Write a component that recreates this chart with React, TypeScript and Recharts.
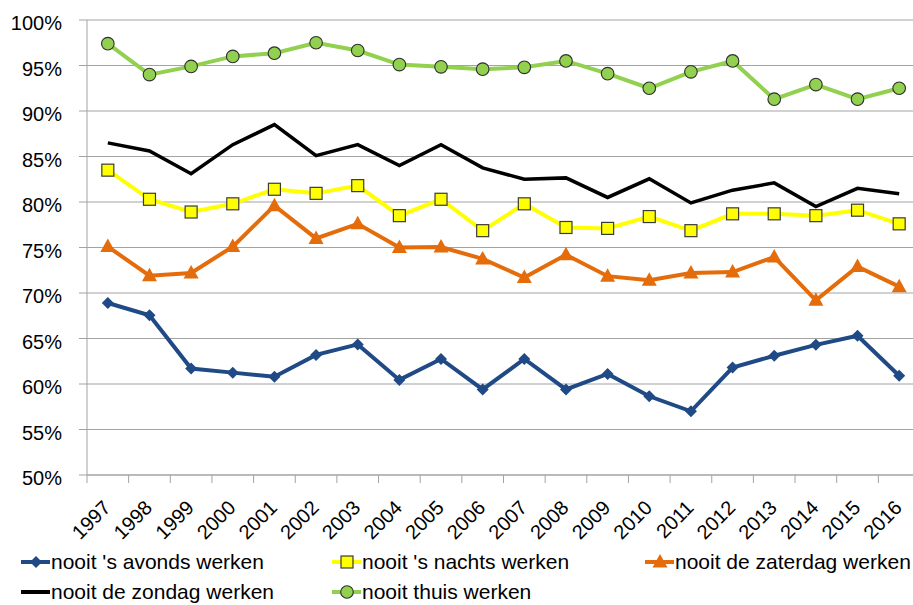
import { LineChart, Line, XAxis, YAxis, CartesianGrid } from 'recharts'

const years = [1997, 1998, 1999, 2000, 2001, 2002, 2003, 2004, 2005, 2006, 2007, 2008, 2009, 2010, 2011, 2012, 2013, 2014, 2015, 2016]
const avonds = [68.9, 67.55, 61.7, 61.25, 60.8, 63.2, 64.35, 60.45, 62.75, 59.4, 62.75, 59.4, 61.1, 58.65, 57.0, 61.8, 63.1, 64.3, 65.3, 60.9]
const nachts = [83.5, 80.3, 78.9, 79.8, 81.4, 80.95, 81.8, 78.5, 80.3, 76.85, 79.8, 77.2, 77.1, 78.4, 76.85, 78.7, 78.7, 78.5, 79.1, 77.6]
const zaterdag = [75.1, 71.9, 72.2, 75.1, 79.6, 76.0, 77.6, 75.0, 75.05, 73.75, 71.7, 74.2, 71.85, 71.4, 72.2, 72.3, 73.95, 69.2, 72.9, 70.7]
const zondag = [86.5, 85.6, 83.1, 86.3, 88.5, 85.1, 86.3, 84.0, 86.3, 83.75, 82.5, 82.65, 80.5, 82.55, 79.9, 81.3, 82.1, 79.5, 81.5, 80.9]
const thuis = [97.4, 94.0, 94.9, 96.0, 96.35, 97.5, 96.65, 95.1, 94.85, 94.6, 94.8, 95.5, 94.1, 92.5, 94.3, 95.5, 91.3, 92.9, 91.3, 92.5]
const yTicks = [50, 55, 60, 65, 70, 75, 80, 85, 90, 95, 100]

const font = '"Liberation Sans", Arial, sans-serif'
const gray = '#A3A3A3'

const data = years.map((year, i) => ({
  i,
  year,
  avonds: avonds[i],
  nachts: nachts[i],
  zaterdag: zaterdag[i],
  zondag: zondag[i],
  thuis: thuis[i],
}))

// category centres carry the labels, half steps carry the tick marks
const xTicks: number[] = []
for (let k = -0.5; k <= years.length - 0.5; k += 0.5) xTicks.push(k)

type Marker = 'diamond' | 'square' | 'triangle' | 'circle' | 'none'

function markerShape(kind: Marker, cx: number, cy: number, fill: string, key?: string | number) {
  if (kind === 'diamond') {
    return <path key={key} d={`M${cx},${cy - 6} L${cx + 6},${cy} L${cx},${cy + 6} L${cx - 6},${cy} Z`} fill={fill} />
  }
  if (kind === 'square') {
    return <rect key={key} x={cx - 6} y={cy - 6} width={12} height={12} fill={fill} stroke="#3a3a3a" strokeWidth={1.2} />
  }
  if (kind === 'triangle') {
    return <path key={key} d={`M${cx},${cy - 8} L${cx + 7.5},${cy + 5.5} L${cx - 7.5},${cy + 5.5} Z`} fill={fill} />
  }
  if (kind === 'circle') {
    return <circle key={key} cx={cx} cy={cy} r={6.3} fill={fill} stroke="#2e2e2e" strokeWidth={1.1} />
  }
  return <g key={key} />
}

const series = [
  { key: 'avonds', name: "nooit 's avonds werken", color: '#1F4A85', marker: 'diamond' as Marker, fill: '#1F4A85' },
  { key: 'nachts', name: "nooit 's nachts werken", color: '#FFFF00', marker: 'square' as Marker, fill: '#FFFF00' },
  { key: 'zaterdag', name: 'nooit de zaterdag werken', color: '#E46C0A', marker: 'triangle' as Marker, fill: '#E46C0A' },
  { key: 'zondag', name: 'nooit de zondag werken', color: '#000000', marker: 'none' as Marker, fill: '#000000' },
  { key: 'thuis', name: 'nooit thuis werken', color: '#92D050', marker: 'circle' as Marker, fill: '#92D050' },
]

const legendPos = [
  { x: 21, y: 562 },
  { x: 332, y: 562 },
  { x: 645, y: 562 },
  { x: 21, y: 592 },
  { x: 332, y: 592 },
]

function XTick(props: any) {
  const { x, y, payload } = props
  const v = payload.value
  if (Math.abs(v - Math.round(v)) > 0.01) {
    return <line x1={x} y1={y} x2={x} y2={y + 8} stroke={gray} strokeWidth={1} />
  }
  const label = years[Math.round(v)]
  if (label === undefined) return <g />
  return (
    <text
      transform={`translate(${x + 4},${y + 34}) rotate(-45)`}
      textAnchor="end"
      fontFamily={font}
      fontSize={20}
      fill="#000"
    >
      {label}
    </text>
  )
}

function YTick(props: any) {
  const { x, y, payload } = props
  return (
    <text x={x} y={y + 10} textAnchor="end" fontFamily={font} fontSize={20} fill="#000">
      {`${payload.value}%`}
    </text>
  )
}

export default function App() {
  return (
    <div style={{ position: 'fixed', left: 0, top: 0, width: 913, height: 605, overflow: 'hidden', background: '#fff' }}>
      <LineChart width={940} height={605} data={data} margin={{ top: 20, right: 20, bottom: 0, left: 0 }}>
        <CartesianGrid horizontal vertical={false} stroke={gray} strokeWidth={1} />
        <XAxis
          dataKey="i"
          type="number"
          domain={[-0.5, years.length - 0.5]}
          allowDataOverflow
          ticks={xTicks}
          interval={0}
          tick={<XTick />}
          tickLine={false}
          tickSize={0}
          tickMargin={0}
          axisLine={{ stroke: gray, strokeWidth: 1 }}
          height={130}
        />
        <YAxis
          type="number"
          domain={[50, 100]}
          ticks={yTicks}
          interval={0}
          width={87}
          tickSize={8}
          tickMargin={17}
          tickLine={{ stroke: gray }}
          axisLine={{ stroke: gray, strokeWidth: 1 }}
          tick={<YTick />}
        />
        {series.map((s) => (
          <Line
            key={s.key}
            type="linear"
            dataKey={s.key}
            name={s.name}
            stroke={s.color}
            strokeWidth={s.key === 'zondag' ? 3.5 : 4}
            isAnimationActive={false}
            dot={(p: any) => markerShape(s.marker, p.cx, p.cy, s.fill, `${s.key}-${p.index}`)}
            activeDot={false}
          />
        ))}
      </LineChart>
      {series.map((s, k) => (
        <div
          key={s.key}
          style={{
            position: 'absolute',
            left: legendPos[k].x,
            top: legendPos[k].y - 14,
            height: 28,
            display: 'flex',
            alignItems: 'center',
            fontFamily: font,
            fontSize: 21,
            color: '#000',
            whiteSpace: 'nowrap',
          }}
        >
          <svg width={29} height={28} style={{ display: 'block' }}>
            <line x1={0} y1={14} x2={29} y2={14} stroke={s.color} strokeWidth={4} />
            {markerShape(s.marker, 15, 14, s.fill)}
          </svg>
          <span style={{ marginLeft: 1 }}>{s.name}</span>
        </div>
      ))}
    </div>
  )
}
